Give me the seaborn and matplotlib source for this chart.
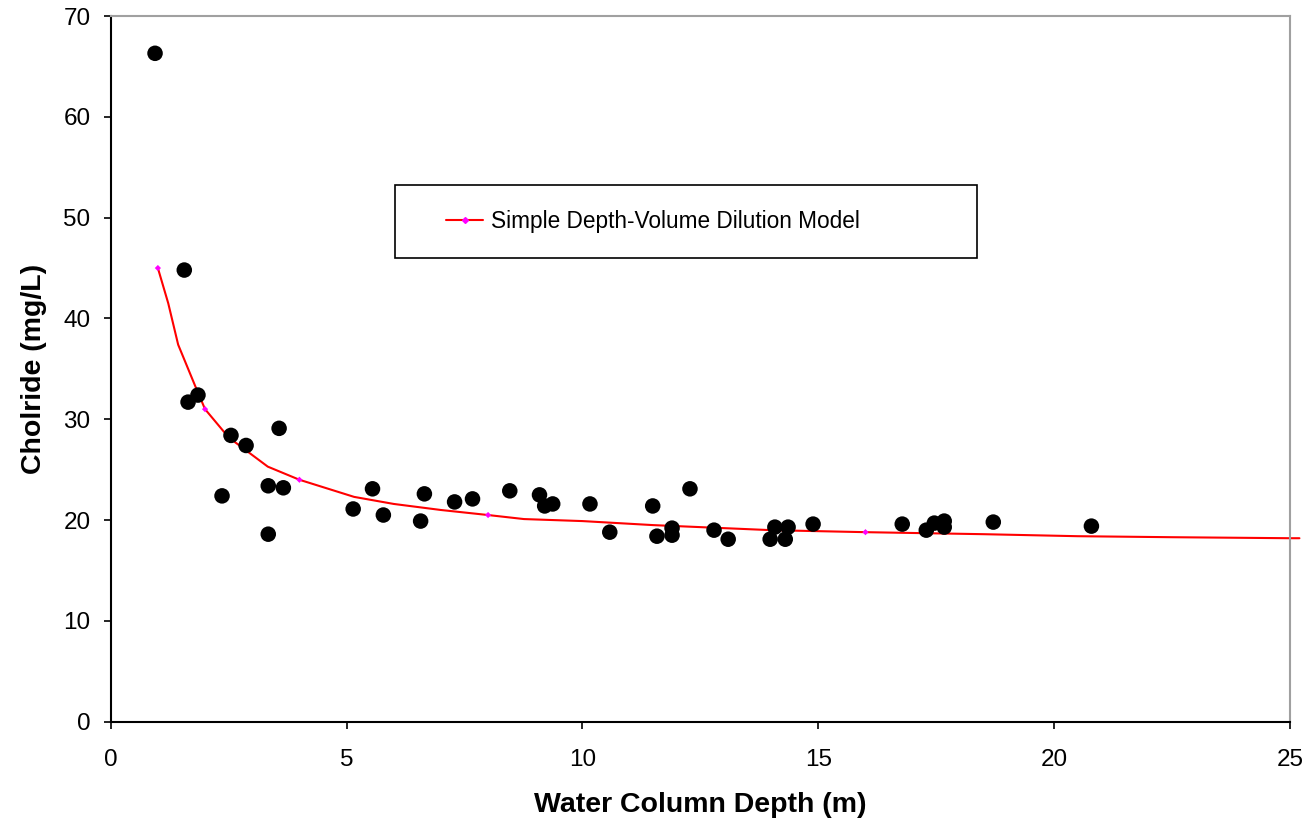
import matplotlib
matplotlib.use("Agg")
import matplotlib.pyplot as plt
from matplotlib.lines import Line2D
from matplotlib.patches import Rectangle
import seaborn as sns
import pandas as pd

# Observed data
depth = [0.94, 1.56, 1.64, 1.85, 2.55, 2.87, 2.36, 3.34, 3.34, 3.57, 3.66,
         5.14, 5.55, 5.78, 6.57, 6.65, 7.29, 7.67, 8.46, 9.09, 9.20, 9.37,
         10.16, 10.58, 11.49, 11.58, 11.90, 11.90, 12.28, 12.79, 13.09,
         13.98, 14.08, 14.30, 14.36, 14.89, 16.78, 17.29, 17.46, 17.67,
         17.67, 18.71, 20.79]
chloride = [66.3, 44.8, 31.7, 32.4, 28.4, 27.4, 22.4, 23.4, 18.6, 29.1, 23.2,
            21.1, 23.1, 20.5, 19.9, 22.6, 21.8, 22.1, 22.9, 22.5, 21.4, 21.6,
            21.6, 18.8, 21.4, 18.4, 19.2, 18.5, 23.1, 19.0, 18.1,
            18.1, 19.3, 18.1, 19.3, 19.6, 19.6, 19.0, 19.7, 19.9,
            19.3, 19.8, 19.4]

# Model curve
model_x = [1.0, 1.22, 1.43, 1.8, 2.0, 2.5, 3.33, 4.0, 5.16, 6.0, 7.0, 8.0,
           8.76, 10.0, 11.5, 13.0, 14.0, 16.0, 18.5, 20.5, 22.5, 25.0, 25.2]
model_y = [45.0, 41.5, 37.4, 33.2, 31.0, 28.2, 25.3, 24.0, 22.3, 21.6, 21.0,
           20.5, 20.1, 19.9, 19.5, 19.2, 19.0, 18.8, 18.6, 18.4, 18.3, 18.2, 18.2]
marker_x = [1, 2, 4, 8, 16]
marker_y = [45.0, 31.0, 24.0, 20.5, 18.8]

x_ticks = [0, 5, 10, 15, 20, 25]
y_ticks = [0, 10, 20, 30, 40, 50, 60, 70]

sns.set_theme(style="white")
plt.rcParams['font.family'] = ['Liberation Sans', 'DejaVu Sans']
plt.rcParams['text.color'] = 'black'
plt.rcParams['axes.labelcolor'] = 'black'
plt.rcParams['xtick.color'] = 'black'
plt.rcParams['ytick.color'] = 'black'

fig = plt.figure(figsize=(13.07, 8.24), dpi=100)
ax = fig.add_axes([110.7 / 1307, 1 - 721.7 / 824, (1290 - 110.7) / 1307, (721.7 - 16) / 824])

df_obs = pd.DataFrame({"depth": depth, "chloride": chloride})
df_model = pd.DataFrame({"x": model_x, "y": model_y})
df_mark = pd.DataFrame({"x": marker_x, "y": marker_y})

sns.lineplot(data=df_model, x="x", y="y", ax=ax, color="#ff0000", linewidth=1.5,
             sort=False, zorder=2, legend=False)
for ln in ax.lines:
    ln.set_clip_on(False)
sns.scatterplot(data=df_mark, x="x", y="y", ax=ax, color="#ff00ff", marker="D",
                s=10, edgecolor="none", zorder=3, legend=False)
sns.scatterplot(data=df_obs, x="depth", y="chloride", ax=ax, color="black",
                s=125, edgecolor="none", zorder=4, legend=False)

ax.set_xlim(0, 25)
ax.set_ylim(0, 70)
ax.set_xticks(x_ticks)
ax.set_yticks(y_ticks)
ax.set_xticklabels([str(t) for t in x_ticks])
ax.set_yticklabels([str(t) for t in y_ticks])

for s in ["left", "bottom"]:
    ax.spines[s].set_color("black")
    ax.spines[s].set_linewidth(1.5)
for s in ["top", "right"]:
    ax.spines[s].set_color("#a0a0a0")
    ax.spines[s].set_linewidth(1.5)

ax.tick_params(axis="both", which="major", direction="out", length=5, width=1.2,
               color="black", labelsize=17.5, labelcolor="black")
ax.tick_params(axis="x", pad=15)
ax.tick_params(axis="y", pad=9.5)
ax.tick_params(left=True, bottom=True)

ax.set_xlabel("Water Column Depth (m)", fontsize=20.5, fontweight="bold", labelpad=15)
ax.set_ylabel("Cholride (mg/L)", fontsize=20.5, fontweight="bold", labelpad=12)

# Legend box
ax.add_patch(Rectangle((0.241, 0.657), 0.494, 0.103, transform=ax.transAxes,
                       facecolor="white", edgecolor="black", linewidth=1.2, zorder=5))
handle = Line2D([], [], color="#ff0000", linewidth=1.5, marker="D", markersize=3,
                markerfacecolor="#ff00ff", markeredgecolor="#ff00ff")
leg = ax.legend([handle], ["Simple Depth-Volume Dilution Model"], loc="center left",
                bbox_to_anchor=(0.275, 0.709), frameon=False, fontsize=16.3,
                handlelength=1.64, handletextpad=0.35, borderpad=0, numpoints=1)
leg.set_zorder(6)

fig.savefig("out.png", dpi=100, facecolor="white")
